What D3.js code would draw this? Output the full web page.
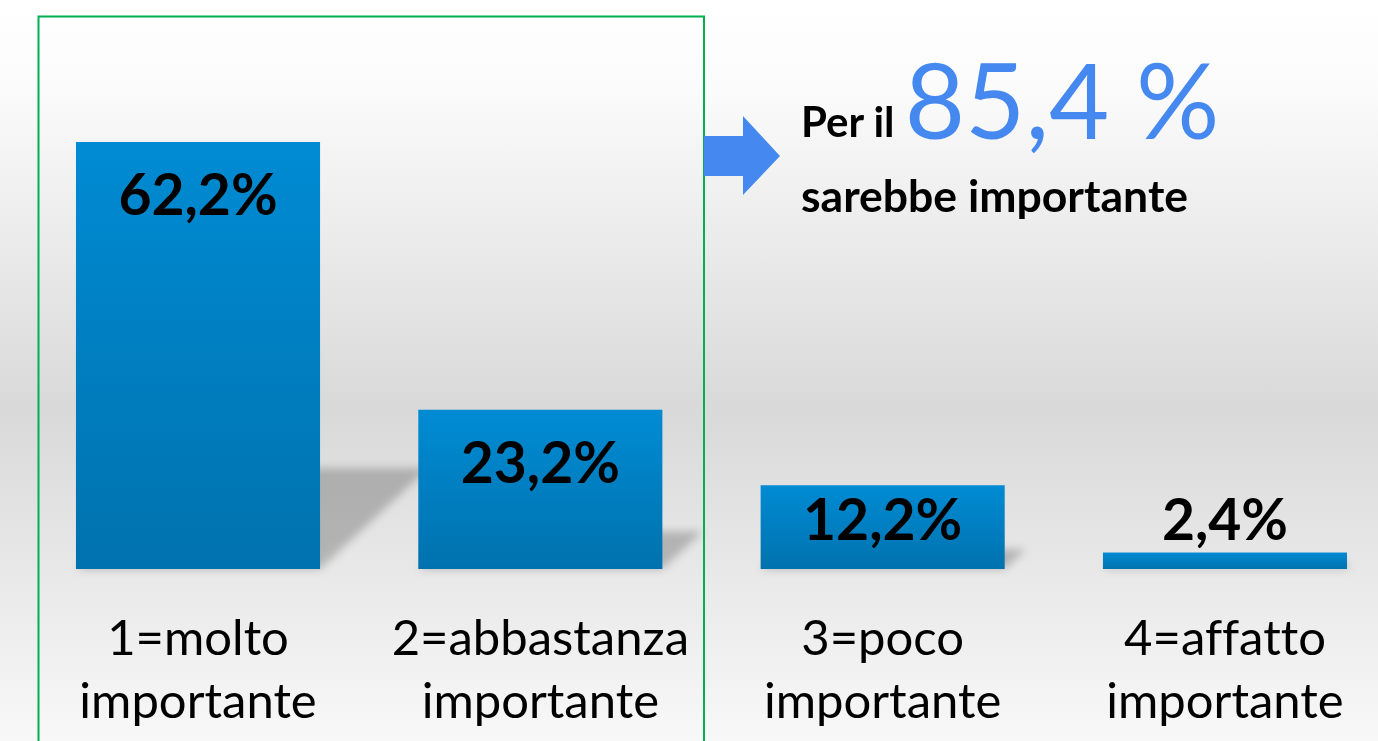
<!DOCTYPE html>
<html><head><meta charset="utf-8">
<script src="https://cdn.jsdelivr.net/npm/d3@7"></script>
<style>html,body{margin:0;padding:0;overflow:hidden;background:#fff}svg{display:block}text{font-variant-ligatures:none;font-feature-settings:"liga" 0}</style>
</head><body>
<script>
const categories = ["1=molto importante", "2=abbastanza importante", "3=poco importante", "4=affatto importante"];
const values = [62.2, 23.2, 12.2, 2.4];
const calloutPrefix = "Per il";
const calloutValue = 85.4;
const calloutSuffix = "sarebbe importante";

const W = 1378, H = 741;
const svg = d3.select("body").append("svg").attr("width", W).attr("height", H);
const defs = svg.append("defs");

const bg = defs.append("linearGradient").attr("id", "bg").attr("x1", 0).attr("y1", 0).attr("x2", 0).attr("y2", 1);
[[0, "#ffffff"], [0.12, "#fbfbfb"], [0.55, "#d9d9d9"], [1, "#f8f8f8"]].forEach(([o, c]) => bg.append("stop").attr("offset", o).attr("stop-color", c));
const bar = defs.append("linearGradient").attr("id", "barG").attr("x1", 0).attr("y1", 0).attr("x2", 0).attr("y2", 1);
[[0, "#008bd3"], [1, "#0072ae"]].forEach(([o, c]) => bar.append("stop").attr("offset", o).attr("stop-color", c));
defs.append("filter").attr("id", "blur").attr("x", "-20%").attr("y", "-20%").attr("width", "140%").attr("height", "140%")
  .append("feGaussianBlur").attr("stdDeviation", 4);

svg.append("rect").attr("width", W).attr("height", H).attr("fill", "url(#bg)");

const x = d3.scaleBand().domain(categories).range([26.85, 1396.15]).paddingInner(0.287).paddingOuter(0.1435);
const y = d3.scaleLinear().domain([0, 62.2]).range([569, 142]);
const base = y(0);

// shadows
svg.append("g").attr("filter", "url(#blur)").selectAll("path").data(values).join("path")
  .attr("d", (d, i) => {
    const h = base - y(d), sh = 0.236 * h, dx = 0.253 * h;
    const x0 = x(categories[i]), x1 = x0 + x.bandwidth();
    return `M${x0},${base}L${x1},${base}L${x1 + dx},${base - sh}L${x0 + dx},${base - sh}Z`;
  })
  .attr("fill", "#000").attr("opacity", 0.22);

// bars
svg.append("g").selectAll("rect").data(values).join("rect")
  .attr("x", (d, i) => x(categories[i])).attr("width", x.bandwidth())
  .attr("y", d => y(d)).attr("height", d => base - y(d))
  .attr("fill", "url(#barG)");

// value labels
const loc = d3.formatLocale({decimal: ",", thousands: ".", grouping: [3], currency: ["", "€"]});
const fmt = loc.format(".1f");
svg.append("g").selectAll("text").data(values).join("text")
  .attr("x", (d, i) => x(categories[i]) + x.bandwidth() / 2)
  .attr("y", d => Math.min(y(d) + 73, base - 29))
  .attr("text-anchor", "middle").attr("font-family", "Lato").attr("font-weight", 700)
  .attr("font-size", 57).attr("fill", "#000")
  .text(d => fmt(d) + "%");

// category labels
const axis = svg.append("g").attr("transform", `translate(0,${base})`)
  .call(d3.axisBottom(x).tickSize(0).tickFormat(""));
axis.select(".domain").remove();
axis.selectAll(".tick").each(function(d) {
  const parts = d.split(" ");
  const t = d3.select(this).append("text").attr("fill", "#000").attr("font-family", "Lato")
    .attr("font-size", 49).attr("text-anchor", "middle");
  t.append("tspan").attr("x", 0).attr("y", 86).text(parts[0]);
  t.append("tspan").attr("x", 0).attr("y", 149).text(parts.slice(1).join(" "));
});

// green highlight box
svg.append("rect").attr("x", 38.5).attr("y", 16.5).attr("width", 665.5).attr("height", 760)
  .attr("fill", "none").attr("stroke", "#00b050").attr("stroke-width", 2);

// arrow
svg.append("path").attr("d", "M704,136L743,136L743,116L780,156L743,195L743,176L704,176Z").attr("fill", "#4589f0");

// callout
const c1 = svg.append("text").attr("x", 801).attr("y", 137).attr("font-family", "Lato").attr("fill", "#000");
c1.append("tspan").attr("font-weight", 700).attr("font-size", 42).text(calloutPrefix + " ");
c1.append("tspan").attr("font-weight", 400).attr("font-size", 104).attr("fill", "#4589f0").attr("dy", 2)
  .text(fmt(calloutValue) + " %");
svg.append("text").attr("x", 801).attr("y", 212).attr("font-family", "Lato").attr("font-weight", 700)
  .attr("font-size", 44.5).attr("fill", "#000").text(calloutSuffix);
</script>
</body></html>
